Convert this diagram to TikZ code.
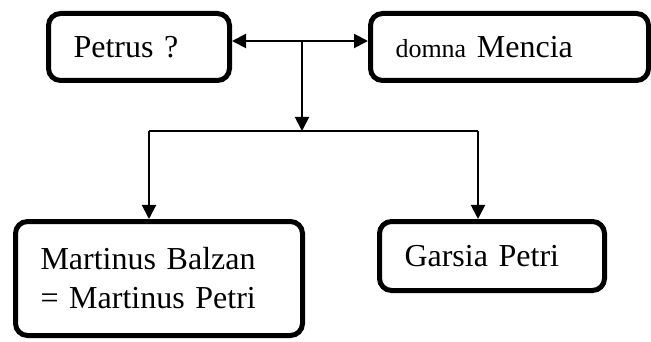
\documentclass[tikz,border=0pt]{standalone}
\usepackage{fontspec}
\setmainfont{Liberation Serif}
\usetikzlibrary{arrows.meta}

\tikzset{
  person/.style={draw, line width=5pt, rounded corners=12pt, inner xsep=25pt,
    inner ysep=0pt, align=left, font=\fontsize{32}{39}\selectfont},
  link/.style={line width=2pt},
  >={Triangle[length=14pt,width=14pt]}
}

\begin{document}
\begin{tikzpicture}[x=1pt,y=-1pt]
    % Fix the page size
    \useasboundingbox (0,0) rectangle (651,342);

    % Parents
    \node[person, text width=131pt, minimum height=67pt] (petrus) at (139,47) {Petrus ?};
    \node[person, text width=228pt, minimum height=67pt] (mencia) at (509.5,47)
        {{\fontsize{26}{30}\selectfont domna} Mencia};

    % Children
    \node[person, text width=237pt, minimum height=114pt] (martinus) at (159,278.5)
        {Martinus Balzan\\= Martinus Petri};
    \node[person, text width=175pt, minimum height=69pt] (garsia) at (492,256) {Garsia Petri};

    % Branch points
    \coordinate (split) at (302,41);
    \coordinate (barL) at (149,131);
    \coordinate (barR) at (478,131);

    % Draw the connectors
    \draw[link, <->] (petrus.east |- split) -- (mencia.west |- split);
    \draw[link, ->] (split) -- (split |- barL);
    \draw[link] (barL) -- (barR);
    \draw[link, ->] (barL) -- (barL |- martinus.north);
    \draw[link, ->] (barR) -- (barR |- garsia.north);

\end{tikzpicture}
\end{document}
